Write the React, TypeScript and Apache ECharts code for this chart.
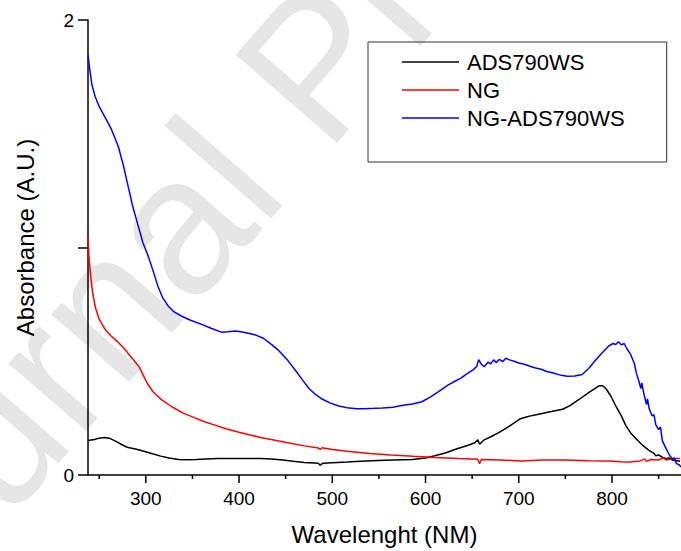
import React, { useEffect, useRef } from "react";
import * as echarts from "echarts";

const FONT = 'Arial, "Liberation Sans", sans-serif';

const seriesNames = ["ADS790WS", "NG", "NG-ADS790WS"];
const seriesColors = ["#000000", "#ff0000", "#0000ff"];

const xMajorTicks = [300, 400, 500, 600, 700, 800];
const xMinorTicks = [250, 350, 450, 550, 650, 750, 850];

const wlADS = [238, 245, 250, 256, 262, 268, 274, 280, 290, 298, 307, 316, 325, 335, 345, 354, 365, 377, 390, 400, 412, 423, 435, 447, 458, 470, 480, 485, 487, 490, 500, 516, 530, 549, 565, 586, 600, 610, 622, 633, 645, 653, 656, 658, 662, 670, 679, 690, 701, 708, 715, 725, 735, 747, 755, 765, 775, 786, 790, 794, 799, 804, 810, 815, 820, 826, 833, 840, 845, 847, 850, 854, 858, 861, 865, 869, 873];
const absADS = [0.152, 0.156, 0.162, 0.165, 0.16, 0.148, 0.134, 0.122, 0.113, 0.104, 0.093, 0.083, 0.075, 0.068, 0.067, 0.068, 0.07, 0.072, 0.073, 0.072, 0.072, 0.072, 0.07, 0.066, 0.06, 0.055, 0.053, 0.052, 0.043, 0.052, 0.054, 0.057, 0.06, 0.064, 0.066, 0.068, 0.075, 0.085, 0.098, 0.114, 0.13, 0.142, 0.155, 0.135, 0.152, 0.168, 0.187, 0.215, 0.246, 0.255, 0.262, 0.27, 0.279, 0.289, 0.305, 0.333, 0.362, 0.392, 0.392, 0.377, 0.345, 0.304, 0.26, 0.216, 0.185, 0.158, 0.13, 0.107, 0.095, 0.085, 0.088, 0.078, 0.072, 0.075, 0.066, 0.063, 0.06];

const wlNG = [238, 239, 241, 243, 246, 250, 256, 263, 270, 277, 284, 290, 293, 297, 302, 308, 316, 328, 340, 352, 363, 375, 386, 400, 412, 423, 440, 455, 470, 485, 487, 489, 500, 516, 540, 563, 587, 610, 635, 656, 658, 660, 680, 703, 725, 749, 775, 796, 810, 819, 830, 835, 837, 842, 850, 855, 858, 865, 873];
const absNG = [1.05, 0.96, 0.87, 0.8, 0.735, 0.685, 0.642, 0.61, 0.585, 0.555, 0.52, 0.49, 0.475, 0.44, 0.4, 0.365, 0.334, 0.3, 0.272, 0.252, 0.234, 0.218, 0.203, 0.188, 0.176, 0.165, 0.152, 0.14, 0.128, 0.119, 0.112, 0.12, 0.112, 0.104, 0.095, 0.088, 0.082, 0.077, 0.072, 0.069, 0.05, 0.068, 0.066, 0.062, 0.066, 0.066, 0.063, 0.062, 0.058, 0.057, 0.062, 0.07, 0.06, 0.068, 0.066, 0.075, 0.066, 0.072, 0.072];

const wlNGADS = [238, 240, 242, 245.5, 250, 254, 258, 263, 267, 270.5, 276, 281, 286, 292, 297, 302.6, 308, 313, 318, 324, 330, 338, 348, 360, 370, 381, 388, 395.5, 402, 410, 418, 426, 435, 442, 452, 461, 468, 475, 482, 489, 498, 507, 516, 526, 535, 545, 554, 565, 576, 586, 596, 605, 614, 624, 631, 638, 645, 651, 655, 657, 660, 663, 667, 670, 673, 676, 679, 683, 686, 690, 695, 700, 706, 712, 718, 724, 730, 737, 744, 752, 760, 768, 775, 782, 789, 796, 801, 804, 807, 810, 813, 816, 820, 824, 826, 829, 831, 832, 834, 837, 838, 840, 843, 845, 847, 850, 852, 854, 857, 860, 862, 865, 867, 869, 872, 874];
const absNGADS = [1.845, 1.78, 1.72, 1.665, 1.62, 1.59, 1.56, 1.52, 1.48, 1.444, 1.36, 1.27, 1.18, 1.093, 1.02, 0.962, 0.895, 0.83, 0.78, 0.743, 0.718, 0.699, 0.68, 0.662, 0.645, 0.628, 0.63, 0.633, 0.63, 0.623, 0.615, 0.601, 0.573, 0.549, 0.505, 0.457, 0.418, 0.38, 0.354, 0.334, 0.316, 0.303, 0.296, 0.291, 0.291, 0.293, 0.295, 0.298, 0.307, 0.312, 0.322, 0.342, 0.366, 0.395, 0.411, 0.426, 0.447, 0.462, 0.478, 0.507, 0.486, 0.476, 0.496, 0.489, 0.506, 0.494, 0.508, 0.499, 0.513, 0.506, 0.5, 0.492, 0.487, 0.478, 0.47, 0.465, 0.455, 0.448, 0.44, 0.434, 0.435, 0.442, 0.468, 0.503, 0.535, 0.565, 0.578, 0.574, 0.586, 0.572, 0.578, 0.555, 0.53, 0.49, 0.45, 0.41, 0.38, 0.405, 0.36, 0.31, 0.335, 0.29, 0.26, 0.265, 0.22, 0.2, 0.21, 0.15, 0.125, 0.1, 0.085, 0.07, 0.075, 0.05, 0.045, 0.035];

const pairs = (xs: number[], ys: number[]) => xs.map((x, i) => [x, ys[i]]);

const tickSeries = (name: string, values: number[], len: number) => ({
  name,
  type: "custom",
  xAxisIndex: 0,
  yAxisIndex: 0,
  clip: false,
  silent: true,
  z: 5,
  data: values.map((v) => [v, 0]),
  renderItem: (_params: any, api: any) => {
    const p = api.coord([api.value(0), api.value(1)]);
    return {
      type: "line",
      shape: { x1: p[0], y1: p[1], x2: p[0], y2: p[1] + len },
      style: { stroke: "#000", lineWidth: 1.5 },
    };
  },
});

export default function App() {
  const ref = useRef<HTMLDivElement>(null);
  useEffect(() => {
    if (!ref.current) return;
    const chart = echarts.init(ref.current, undefined, { renderer: "svg" });
    const dataSets = [pairs(wlADS, absADS), pairs(wlNG, absNG), pairs(wlNGADS, absNGADS)];
    const axisLineStyle = { color: "#000", width: 1.5 };
    chart.setOption({
      animation: false,
      backgroundColor: "#fff",
      grid: { left: 88, right: 0, top: 20, bottom: 75, containLabel: false },
      graphic: {
        elements: [
          {
            type: "text",
            x: -180,
            y: 634,
            rotation: 0.855,
            z: -10,
            silent: true,
            style: {
              text: "Journal Pre-proof",
              font: `195px ${FONT}`,
              fill: "#e6e6e6",
              textAlign: "left",
              textVerticalAlign: "middle",
            },
          },
        ],
      },
      legend: {
        orient: "vertical",
        left: 368,
        top: 42,
        padding: [9, 42, 33, 34],
        itemGap: 6,
        itemWidth: 57,
        itemHeight: 1.5,
        icon: "rect",
        borderColor: "#333",
        borderWidth: 1,
        data: seriesNames,
        textStyle: { fontSize: 22, color: "#000", fontFamily: FONT, padding: [0, 0, 0, 3] },
      },
      xAxis: {
        type: "value",
        min: 238,
        max: 874,
        position: "bottom",
        name: "Wavelenght (NM)",
        nameLocation: "middle",
        nameGap: 47,
        nameTextStyle: { fontSize: 24, color: "#000", fontFamily: FONT },
        axisLine: { show: true, onZero: false, lineStyle: axisLineStyle },
        axisTick: { show: false },
        axisLabel: {
          customValues: xMajorTicks,
          fontSize: 19,
          color: "#000",
          fontFamily: FONT,
          margin: 14,
          formatter: (v: number) => (xMajorTicks.indexOf(v) >= 0 ? String(v) : ""),
        },
        splitLine: { show: false },
      },
      yAxis: {
        type: "value",
        min: 0,
        max: 2,
        interval: 1,
        name: "Absorbance (A.U.)",
        nameLocation: "middle",
        nameRotate: 90,
        nameGap: 51,
        nameTextStyle: { fontSize: 24, color: "#000", fontFamily: FONT, padding: [0, 0, 0, 20] },
        axisLine: { show: true, lineStyle: axisLineStyle },
        axisTick: { show: true, length: 10, lineStyle: axisLineStyle },
        axisLabel: {
          fontSize: 19,
          color: "#000",
          fontFamily: FONT,
          margin: 14,
          formatter: (v: number) => (v === 1 ? "" : String(v)),
        },
        splitLine: { show: false },
      },
      series: [
        ...seriesNames.map((name, i) => ({
          name,
          type: "line",
          xAxisIndex: 0,
          data: dataSets[i],
          symbol: "none",
          smooth: false,
          lineStyle: { color: seriesColors[i], width: 1.5 },
          itemStyle: { color: seriesColors[i] },
        })),
        tickSeries("majorTicks", xMajorTicks, 8),
        tickSeries("minorTicks", xMinorTicks, 4),
      ],
    });
    return () => chart.dispose();
  }, []);
  return (
    <div
      ref={ref}
      style={{ position: "fixed", left: 0, top: 0, width: 681, height: 551, background: "#fff" }}
    />
  );
}
